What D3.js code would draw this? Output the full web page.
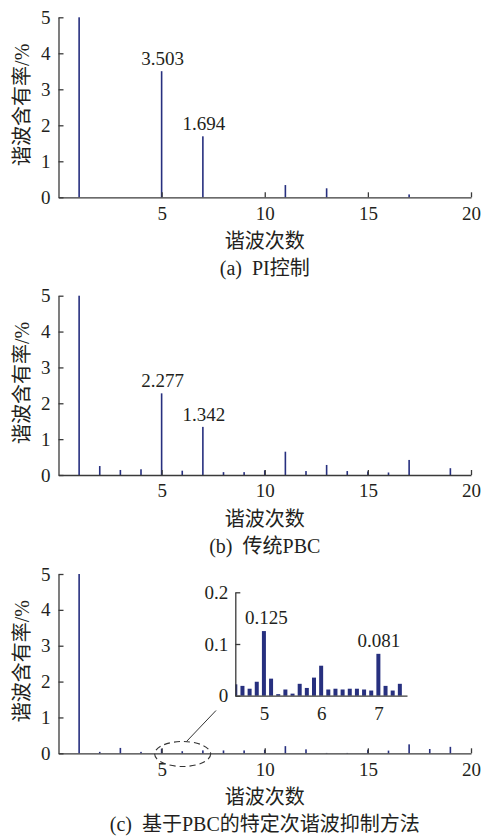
<!DOCTYPE html>
<html><head><meta charset="utf-8">
<script src="https://cdn.jsdelivr.net/npm/d3@7"></script>
<style>
html,body{margin:0;padding:0;background:#fff;}
svg{display:block;}
text{font-family:"Liberation Serif","Noto Sans CJK SC",serif;fill:#231f20;}
.cjk{font-family:"Liberation Serif","Noto Sans CJK SC",serif;}
</style></head><body>
<script>
// ---------- data ----------
const harmonics = [1,2,3,4,5,6,7,8,9,10,11,12,13,14,15,16,17,18,19,20];
const piValues  = [100,0,0,0,3.503,0,1.694,0,0,0,0.34,0,0.25,0,0,0,0.08,0,0,0];
const pbcValues = [100,0.25,0.14,0.16,2.277,0.12,1.342,0.08,0.08,0.13,0.65,0.11,0.28,0.11,0.10,0.07,0.42,0,0.19,0];
const newValues = [100,0.04,0.15,0.04,0.125,0.058,0.081,0.08,0.08,0.10,0.20,0.11,0.01,0.01,0.10,0.075,0.25,0.12,0.18,0];
const xTicks = [5,10,15,20];
const yTicks = [0,1,2,3,4,5];
const insetOrders = [4.5,4.625,4.75,4.875,5,5.125,5.25,5.375,5.5,5.625,5.75,5.875,6,6.125,6.25,6.375,6.5,6.625,6.75,6.875,7,7.125,7.25,7.375];
const insetValues = [0.022,0.019,0.0135,0.027,0.125,0.033,0.003,0.012,0.004,0.023,0.015,0.035,0.058,0.012,0.0135,0.012,0.0135,0.0135,0.012,0.010,0.081,0.019,0.010,0.023];
const insetXTicks = [5,6,7];
const insetYTicks = [0,0.1,0.2];
const panels = [
  {values: piValues,  caption: "(a)  PI控制", labels: [[5,"3.503"],[7,"1.694"]]},
  {values: pbcValues, caption: "(b)  传统PBC", labels: [[5,"2.277"],[7,"1.342"]]},
  {values: newValues, caption: "(c)  基于PBC的特定次谐波抑制方法", labels: []}
];
const yTitle = "谐波含有率/%";
const xTitle = "谐波次数";

// ---------- layout ----------
const W = 482, H = 837;
const barColor = "#27307f", axisColor = "#3a3a3a";
const left = 58.5, right = 471;
const panelY = [{y0:197.3, y5:17.3},{y0:475, y5:295.7},{y0:753.3, y5:574}];
const fs = 19;

const svg = d3.select("body").append("svg").attr("width", W).attr("height", H);
const x = d3.scaleLinear().domain([0,20]).range([left,right]);

panels.forEach((p, i) => {
  const py = panelY[i];
  const y = d3.scaleLinear().domain([0,5]).range([py.y0, py.y5]).clamp(true);
  const g = svg.append("g");

  // bars
  g.selectAll("rect.bar").data(harmonics.map((h,k)=>({h, v:p.values[k]})).filter(d=>d.v>0))
    .enter().append("rect").attr("class","bar")
    .attr("x", d => x(d.h)-0.8).attr("width", 1.6)
    .attr("y", d => y(d.v)).attr("height", d => py.y0 - y(d.v))
    .attr("fill", barColor);

  // axes
  const ax = g.append("g").attr("transform", `translate(0,${py.y0})`)
    .call(d3.axisBottom(x).tickValues(xTicks).tickSize(-5).tickSizeOuter(0).tickPadding(9));
  const ay = g.append("g").attr("transform", `translate(${left},0)`)
    .call(d3.axisLeft(y).tickValues(yTicks).tickSize(-5).tickSizeOuter(0).tickPadding(8).tickFormat(d3.format("d")));
  [ax, ay].forEach(a => {
    a.selectAll("path.domain").attr("stroke", axisColor).attr("stroke-width", 1.3);
    a.selectAll(".tick line").attr("stroke", axisColor).attr("stroke-width", 1.3);
    a.selectAll("text").attr("font-size", fs).attr("font-family", "Liberation Serif").attr("fill", "#231f20");
  });

  // value labels
  p.labels.forEach(([h, t]) => {
    const v = p.values[harmonics.indexOf(h)];
    g.append("text").attr("x", x(h) + 1).attr("y", y(v) - 6)
      .attr("text-anchor","middle").attr("font-size", fs).text(t);
  });

  // titles
  const cy = (py.y0 + py.y5)/2 - 2.5;
  g.append("text").attr("class","cjk")
    .attr("transform", `translate(29,${cy}) rotate(-90)`)
    .attr("text-anchor","middle").attr("font-size", 20).text(yTitle);
  g.append("text").attr("class","cjk").attr("x", (left+right)/2).attr("y", py.y0 + 51)
    .attr("text-anchor","middle").attr("font-size", 20).text(xTitle);
  g.append("text").attr("class","cjk").attr("x", (left+right)/2).attr("y", py.y0 + 78)
    .attr("text-anchor","middle").attr("font-size", 20).style("white-space","pre").text(p.caption);
});

// ---------- inset ----------
const ix = d3.scaleLinear().domain([4.5,7.5]).range([235.3,407]);
const iy = d3.scaleLinear().domain([0,0.2]).range([695.7,592.3]);
const ig = svg.append("g");
ig.append("clipPath").attr("id","insetClip").append("rect")
  .attr("x", 235.3).attr("y", 580).attr("width", 180).attr("height", 116);
ig.append("g").attr("clip-path","url(#insetClip)")
  .selectAll("rect").data(insetOrders.map((o,k)=>({o, v:insetValues[k]})))
  .enter().append("rect")
  .attr("x", d => ix(d.o)-2).attr("width", 4)
  .attr("y", d => iy(d.v)).attr("height", d => 695.7 - iy(d.v))
  .attr("fill", barColor);
const iax = ig.append("g").attr("transform","translate(0,695.7)")
  .call(d3.axisBottom(ix).tickValues(insetXTicks).tickSize(0).tickSizeOuter(0).tickPadding(11).tickFormat(d3.format("d")));
const iay = ig.append("g").attr("transform","translate(235.3,0)")
  .call(d3.axisLeft(iy).tickValues(insetYTicks).tickSize(-5).tickSizeOuter(0).tickPadding(7).tickFormat(d => d===0 ? "0" : d3.format(".1f")(d)));
[iax, iay].forEach(a => {
  a.selectAll("path.domain").attr("stroke", axisColor).attr("stroke-width", 1.3);
  a.selectAll(".tick line").attr("stroke", axisColor).attr("stroke-width", 1.3);
  a.selectAll("text").attr("font-size", fs).attr("font-family","Liberation Serif").attr("fill","#231f20");
});
ig.append("text").attr("x", ix(5)+2.5).attr("y", iy(0.125)-7).attr("text-anchor","middle").attr("font-size", fs).text("0.125");
ig.append("text").attr("x", ix(7)+0.5).attr("y", iy(0.081)-7).attr("text-anchor","middle").attr("font-size", fs).text("0.081");

// dashed ellipse + leader line
svg.append("ellipse").attr("cx", x(6.02)).attr("cy", 754).attr("rx", 28).attr("ry", 12.5)
  .attr("fill","none").attr("stroke","#333").attr("stroke-width",1.1).attr("stroke-dasharray","6,4");
svg.append("line").attr("x1", 186.5).attr("y1", 741.5).attr("x2", 216).attr("y2", 710.5)
  .attr("stroke","#333").attr("stroke-width",1);
</script>
</body></html>
